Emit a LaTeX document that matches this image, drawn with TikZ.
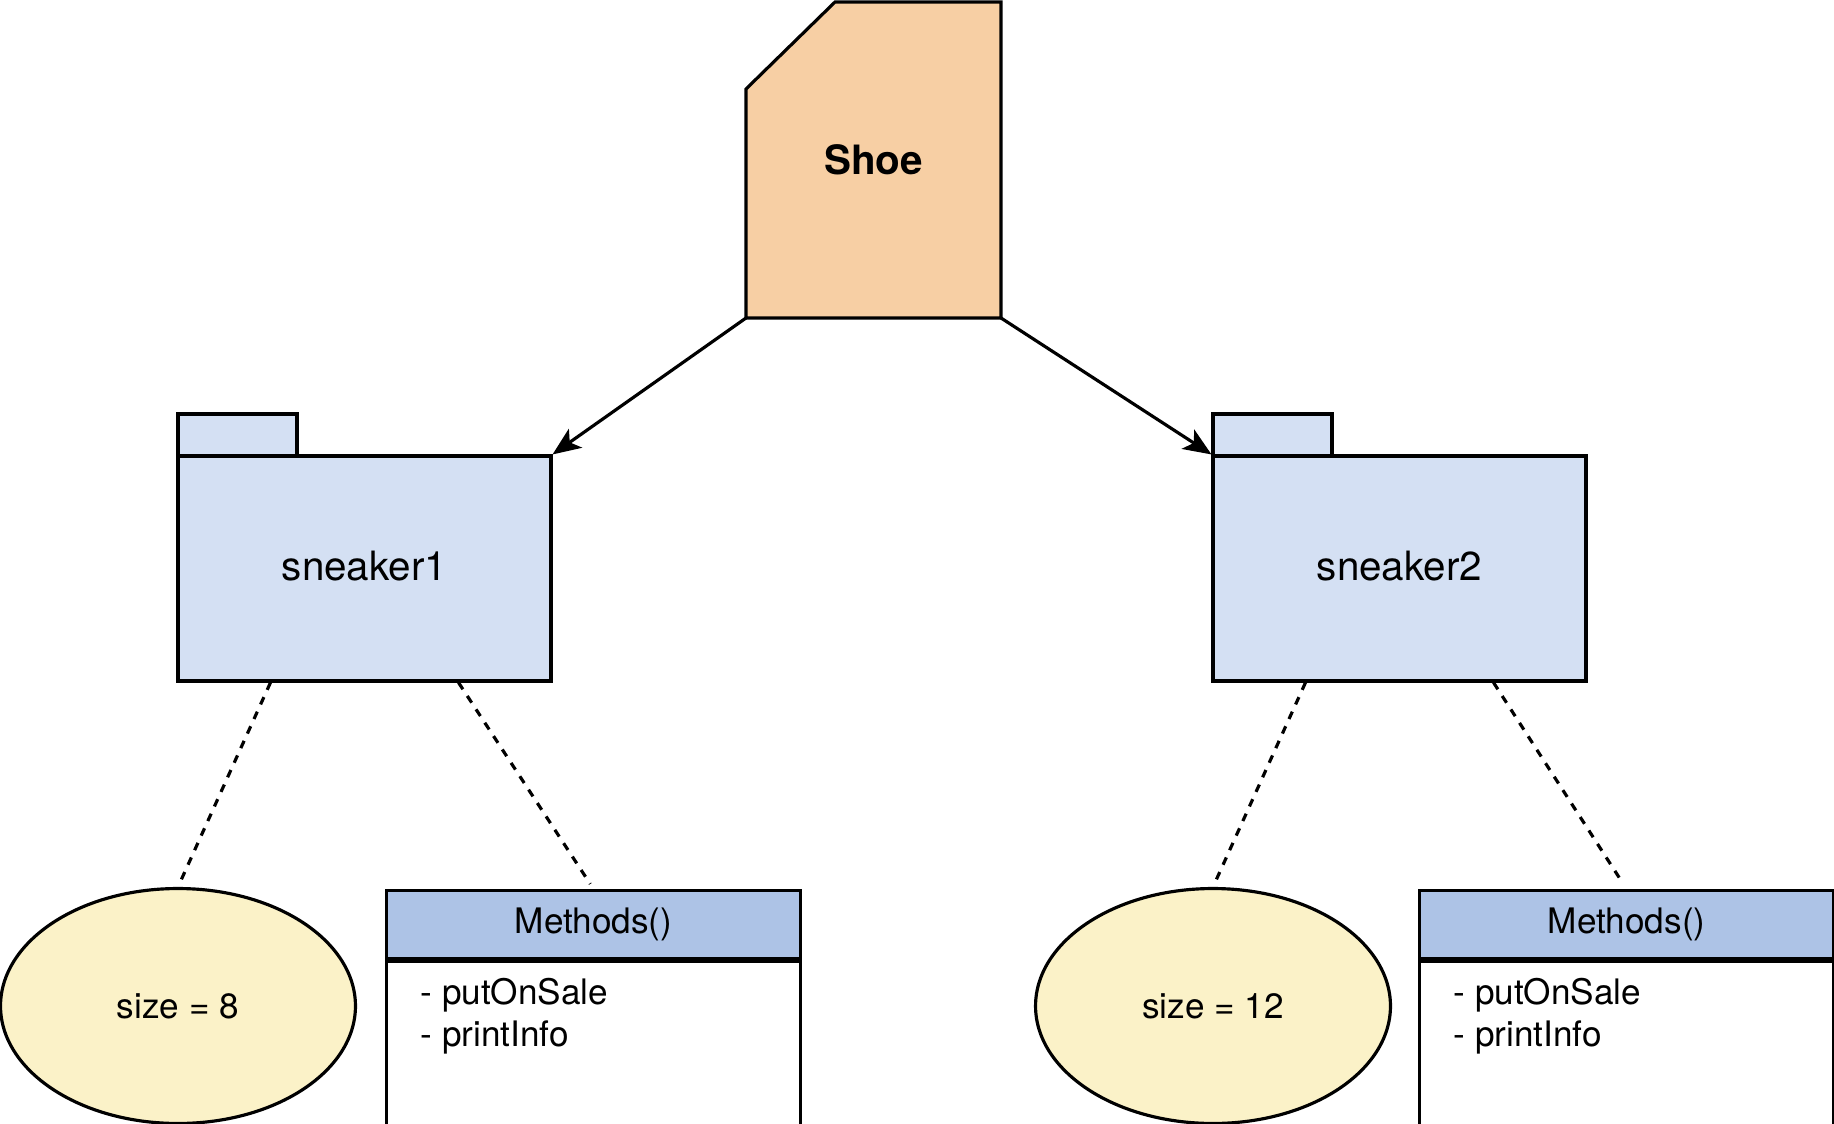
\documentclass[tikz,border=0pt]{standalone}
\usepackage{fontspec}
\setmainfont{TeX Gyre Heros}
\usetikzlibrary{arrows.meta,shapes.geometric,calc}

\definecolor{shoefill}{RGB}{247,207,164}
\definecolor{pkgblue}{RGB}{212,224,243}
\definecolor{sizeyellow}{RGB}{251,242,200}
\definecolor{headblue}{RGB}{173,195,230}

% folder: name, left x, top y of body, label
\newcommand\pkgfolder[4]{\draw[pkgtab] (#2,{#3-42}) rectangle ({#2+119},#3);
  \node[pkgbody] (#1) at ({#2+186.5},{#3+112.5}) {#4}; }

% methods box: name, left x, top y
\newcommand\methodbox[3]{\node[methhead, anchor=north west] (#1) at (#2,#3) {\raisebox{-0.07cm}{Methods()}};
  \node[methbody, anchor=north] (#1b) at (#1.south) {};
  \node[methlist, anchor=north west] at ([xshift=0.68cm, yshift=-0.33cm]#1.south west) {- putOnSale\\- printInfo}; }

\begin{document}
\begin{tikzpicture}[x=0.02cm, y=-0.02cm, line width=1.8pt,
    pkgtab/.style={draw, fill=pkgblue},
    pkgbody/.style={draw, fill=pkgblue, minimum width=7.46cm, minimum height=4.5cm, inner sep=0, font=\fontsize{23}{28}\selectfont},
    sizeoval/.style={draw, ellipse, fill=sizeyellow, minimum width=7.1cm, minimum height=4.7cm, inner sep=0, font=\fontsize{20}{24}\selectfont},
    methhead/.style={draw, fill=headblue, minimum width=8.28cm, minimum height=1.36cm, inner sep=0, font=\fontsize{20}{24}\selectfont},
    methbody/.style={draw, fill=white, minimum width=8.28cm, minimum height=3.34cm, inner sep=0},
    methlist/.style={inner sep=0, align=left, font=\fontsize{20}{24}\selectfont},
    inherit/.style={-{Stealth[length=0.56cm, width=0.46cm, inset=0.14cm]}},
    attach/.style={dash pattern=on 0.16cm off 0.16cm, shorten >=0.12cm}]
    \useasboundingbox (0,0) rectangle (1834,1124);

    % Shoe, cut corner top left
    \draw[fill=shoefill] (835,2) -- (1001,2) -- (1001,318) coordinate (shoeR)
        -- (746,318) coordinate (shoeL) -- (746,89) -- cycle;
    \node[font=\fontsize{23}{28}\selectfont\bfseries] (shoe) at (873.5,160) {Shoe};

    % two folders
    \pkgfolder{snk1}{178}{456}{\raisebox{0.1cm}{sneaker1}}
    \pkgfolder{snk2}{1213}{456}{\raisebox{0.1cm}{sneaker2}}

    % Shoe to folders
    \draw[inherit] (shoeL) -- (snk1.north east);
    \draw[inherit] (shoeR) -- (snk2.north west);

    % sizes
    \node[sizeoval] (size1) at (178,1006) {size = 8};
    \node[sizeoval] (size2) at (1213,1006) {size = 12};

    % methods
    \methodbox{meth1}{385}{889}
    \methodbox{meth2}{1418}{889}

    % dashed links
    \draw[attach] ($(snk1.south west)!0.25!(snk1.south east)$) -- (size1.north);
    \draw[attach] ($(snk1.south west)!0.75!(snk1.south east)$) -- (meth1.north);
    \draw[attach] ($(snk2.south west)!0.25!(snk2.south east)$) -- (size2.north);
    \draw[attach] ($(snk2.south west)!0.75!(snk2.south east)$) -- (meth2.north);
\end{tikzpicture}
\end{document}
